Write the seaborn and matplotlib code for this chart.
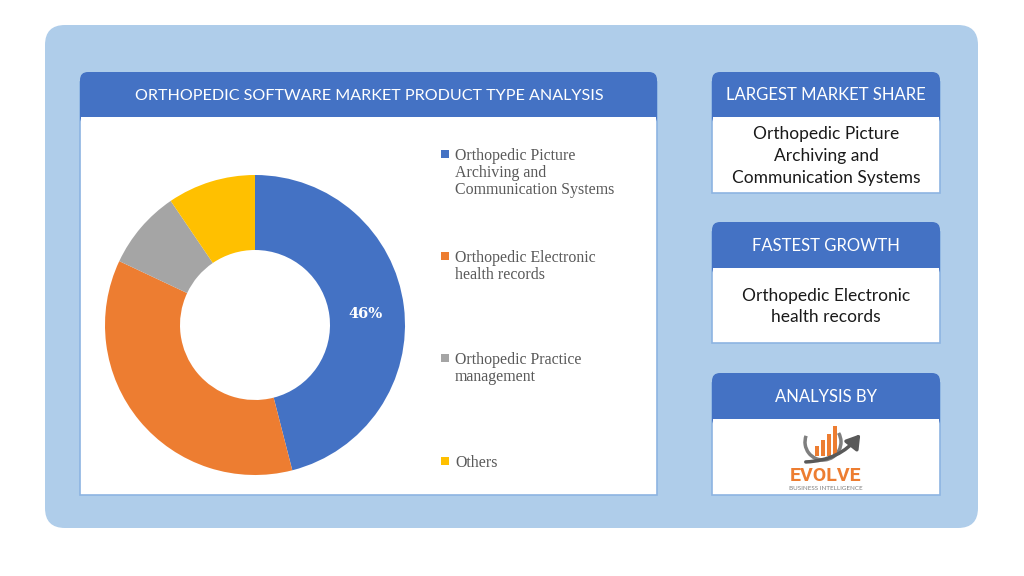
import matplotlib
matplotlib.use("Agg")
import matplotlib.pyplot as plt
import seaborn as sns
import numpy as np
from matplotlib.patches import FancyBboxPatch, Rectangle, Arc, FancyArrowPatch

sns.set_theme(style="white")
plt.rcParams['font.family'] = ['Lato', 'DejaVu Sans']

# ---- data ----
categories = ["Orthopedic Picture\nArchiving and\nCommunication Systems",
              "Orthopedic Electronic\nhealth records",
              "Orthopedic Practice\nmanagement",
              "Others"]
shares = [46, 36, 8.5, 9.5]
colors = ["#4472C4", "#ED7D31", "#A5A5A5", "#FFC000"]
title = "ORTHOPEDIC SOFTWARE MARKET PRODUCT TYPE ANALYSIS"
side_headers = ["LARGEST MARKET SHARE", "FASTEST GROWTH", "ANALYSIS BY"]
side_texts = ["Orthopedic Picture\nArchiving and\nCommunication Systems",
              "Orthopedic Electronic\nhealth records"]

W, H = 1024, 576
fig = plt.figure(figsize=(W / 100, H / 100), dpi=100)
fig.patch.set_facecolor("white")
bg = fig.add_axes([0, 0, 1, 1])
bg.set_xlim(0, W)
bg.set_ylim(H, 0)
bg.axis("off")

HEAD = "#4472C4"
LIGHT = "#AFCDEA"
EDGE = "#8DB4E2"

# outer light blue rounded panel
bg.add_patch(FancyBboxPatch((45, 25), 933, 503, boxstyle="round,pad=0,rounding_size=20",
                            fc=LIGHT, ec="none", zorder=0))


def card(x0, y0, x1, y1, hy):
    bg.add_patch(Rectangle((x0, y0 + 10), x1 - x0, y1 - y0 - 10, fc="white", ec=EDGE, lw=1.2, zorder=1))
    bg.add_patch(FancyBboxPatch((x0, y0), x1 - x0, hy - y0 + 8, boxstyle="round,pad=0,rounding_size=8",
                                fc=HEAD, ec="none", zorder=2))
    bg.add_patch(Rectangle((x0, hy - 8), x1 - x0, 8, fc=HEAD, ec="none", zorder=2))
    bg.add_patch(Rectangle((x0 + 0.6, hy), x1 - x0 - 1.2, 10, fc="white", ec="none", zorder=2))


# main card
card(80, 72, 657, 495, 117)
bg.text(369, 96, title, color="white", fontsize=11.6, ha="center", va="center", zorder=3)

# side cards
boxes = [(712, 72, 940, 193, 117), (712, 222, 940, 343, 268), (712, 373, 940, 495, 419)]
for (x0, y0, x1, y1, hy), head in zip(boxes, side_headers):
    card(x0, y0, x1, y1, hy)
    bg.text((x0 + x1) / 2, (y0 + hy) / 2 + 1, head, color="white", fontsize=12, ha="center", va="center", zorder=3)
for (x0, y0, x1, y1, hy), txt in zip(boxes[:2], side_texts):
    bg.text((x0 + x1) / 2, (hy + y1) / 2 + 1, txt, color="#1a1a1a", fontsize=12.5, ha="center", va="center",
            linespacing=1.45, zorder=3)

# legend (manual placement)
leg_y = [154, 256, 358, 461]
for lab, c, y in zip(categories, colors, leg_y):
    bg.add_patch(Rectangle((441, y - 4), 8, 8, fc=c, ec="none", zorder=3))
    bg.text(455, y - 6, lab, color="#595959", fontsize=11.4, family=["Liberation Serif", "DejaVu Serif"],
            ha="left", va="top", linespacing=1.1, zorder=3)

# logo
lx, ly = 823, 442
bg.add_patch(Arc((lx, ly), 36, 36, theta1=-30, theta2=200, color="#7f7f7f", lw=2.5, zorder=3))
for bx, bh in zip([815, 821, 827, 833], [10, 16, 22, 30]):
    bg.add_patch(Rectangle((bx, ly + 14 - bh), 4, bh, fc="#ED7D31", ec="none", zorder=4))
bg.add_patch(FancyArrowPatch((803, 462), (862, 432), connectionstyle="arc3,rad=0.25",
                             arrowstyle="-|>,head_length=8,head_width=5", color="#595959", lw=2.5, zorder=5))
bg.text(826, 476, "EVOLVE", color="#ED7D31", fontsize=14, fontweight="bold", ha="center", va="center",
        family=["Roboto", "DejaVu Sans"], zorder=5)
bg.text(826, 489, "BUSINESS INTELLIGENCE", color="#7f7f7f", fontsize=4.5, ha="center", va="center", zorder=5)

# donut
cx, cy, r = 255, 325, 150
ax = fig.add_axes([(cx - r) / W, (H - cy - r) / H, 2 * r / W, 2 * r / H])
wedges, _ = ax.pie(shares, colors=colors, startangle=90, counterclock=False, radius=1,
                   wedgeprops=dict(width=0.5, edgecolor="none"))
ax.set_xlim(-1, 1)
ax.set_ylim(-1, 1)
ax.set_aspect("equal")
ax.axis("off")
mid = 90 - shares[0] / sum(shares) * 360 / 2
ax.text(0.74 * np.cos(np.radians(mid)), 0.74 * np.sin(np.radians(mid)) - 0.02, f"{shares[0]:.0f}%",
        color="white", fontsize=10.5, fontweight="bold", family=["DejaVu Serif"], ha="center", va="center")

fig.savefig("out.png", dpi=100)
